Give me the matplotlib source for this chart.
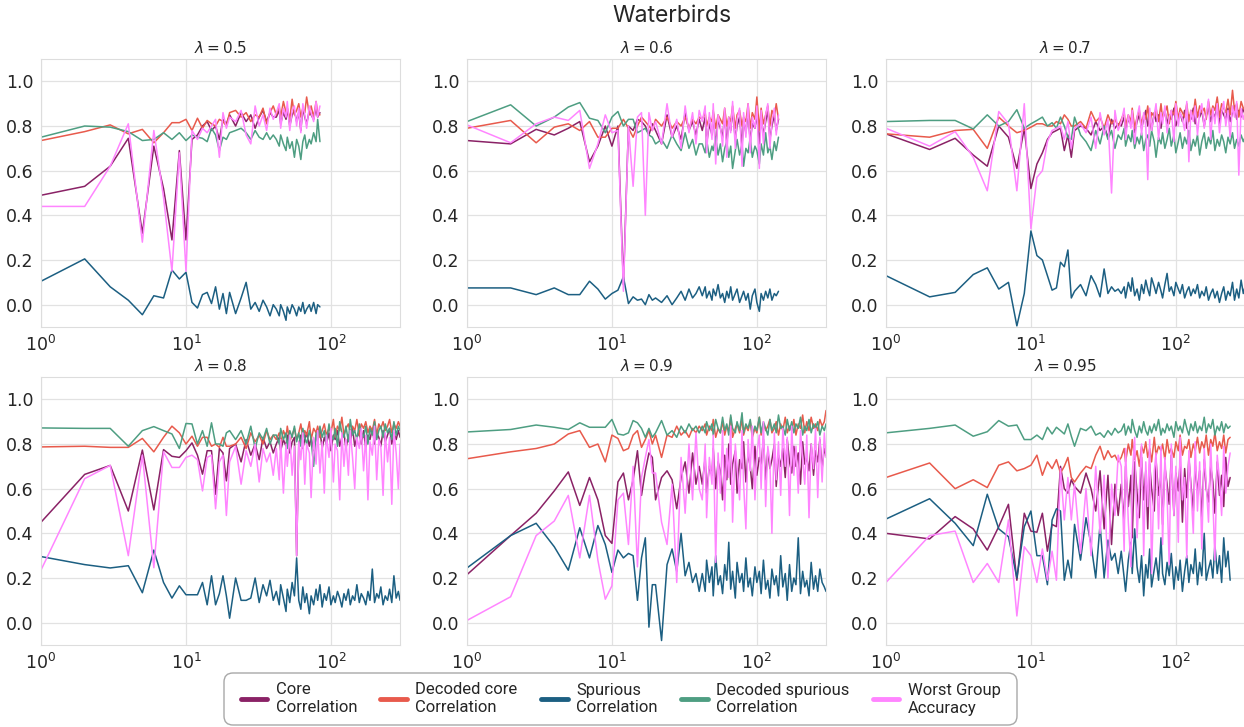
import numpy as np
import matplotlib
matplotlib.use("Agg")
import matplotlib.pyplot as plt
from matplotlib.patches import FancyBboxPatch
from matplotlib.transforms import IdentityTransform
import seaborn as sns

sns.set_style("whitegrid")

# epochs at which the curves were read (shared by every panel, truncated per panel)
epochs = (list(range(1, 21)) + list(range(22, 41, 2)) +
          [42, 44, 45, 47, 49, 50, 52, 54, 56, 58,
           60, 62, 64, 66, 68, 71, 73, 76, 79, 81,
           84, 87, 90, 93, 97, 100, 104, 107, 111, 115,
           119, 123, 127, 132, 136, 141, 146, 151, 157, 162,
           168, 174, 180, 186, 193, 200, 207, 214, 221, 229,
           237, 246, 254, 263, 272, 282, 292, 300])

lambdas = ["0.5", "0.6", "0.7", "0.8", "0.9", "0.95"]
series_names = ["Core\nCorrelation", "Decoded core\nCorrelation", "Spurious\nCorrelation",
                "Decoded spurious\nCorrelation", "Worst Group\nAccuracy"]

# lambda = 0.5
core_05 = [0.49, 0.53, 0.62, 0.745, 0.32, 0.71, 0.52, 0.29, 0.69, 0.29,
           0.74, 0.76, 0.80, 0.82, 0.78, 0.80, 0.74, 0.83, 0.81, 0.85,
           0.80, 0.86, 0.82, 0.85, 0.79, 0.84, 0.87, 0.82, 0.86, 0.84,
           0.84, 0.87, 0.81, 0.86, 0.83, 0.88, 0.80, 0.85, 0.87, 0.82,
           0.86, 0.78, 0.88, 0.84, 0.81, 0.87, 0.85, 0.83, 0.88, 0.84,
           0.86]
dcore_05 = [0.735, 0.775, 0.805, 0.765, 0.785, 0.725, 0.77, 0.815, 0.815, 0.83,
            0.78, 0.835, 0.79, 0.825, 0.81, 0.80, 0.83, 0.82, 0.80, 0.86,
            0.87, 0.84, 0.86, 0.82, 0.85, 0.84, 0.88, 0.81, 0.86, 0.89,
            0.85, 0.89, 0.84, 0.91, 0.86, 0.88, 0.83, 0.92, 0.85, 0.87,
            0.90, 0.84, 0.88, 0.86, 0.93, 0.85, 0.89, 0.84, 0.91, 0.86,
            0.85]
spur_05 = [0.105, 0.205, 0.08, 0.02, -0.045, 0.04, 0.03, 0.155, 0.115, 0.145,
           0.01, -0.015, 0.045, 0.055, 0.005, 0.08, -0.02, 0.05, -0.04, 0.055,
           -0.04, 0.03, 0.10, -0.02, 0.01, -0.03, 0.02, -0.01, -0.05, 0.0,
           -0.02, -0.05, 0.0, -0.03, -0.07, -0.01, -0.04, 0.0, -0.02, -0.05,
           -0.01, -0.03, 0.01, -0.04, -0.02, 0.0, -0.03, 0.01, -0.04, 0.0,
           -0.01]
dspur_05 = [0.75, 0.80, 0.795, 0.775, 0.735, 0.74, 0.77, 0.74, 0.77, 0.735,
            0.76, 0.75, 0.745, 0.73, 0.79, 0.76, 0.69, 0.75, 0.74, 0.77,
            0.78, 0.79, 0.77, 0.74, 0.78, 0.75, 0.74, 0.77, 0.74, 0.76,
            0.74, 0.71, 0.76, 0.72, 0.69, 0.75, 0.70, 0.73, 0.66, 0.74,
            0.71, 0.65, 0.73, 0.76, 0.70, 0.74, 0.72, 0.77, 0.73, 0.83,
            0.73]
wga_05 = [0.44, 0.44, 0.62, 0.81, 0.28, 0.78, 0.48, 0.15, 0.68, 0.15,
          0.78, 0.74, 0.79, 0.77, 0.80, 0.83, 0.66, 0.86, 0.79, 0.84,
          0.82, 0.87, 0.76, 0.72, 0.89, 0.80, 0.85, 0.78, 0.88, 0.83,
          0.86, 0.90, 0.79, 0.88, 0.84, 0.91, 0.78, 0.87, 0.89, 0.80,
          0.88, 0.77, 0.90, 0.85, 0.79, 0.89, 0.86, 0.82, 0.91, 0.84,
          0.89]

# lambda = 0.6
core_06 = [0.735, 0.72, 0.785, 0.76, 0.79, 0.82, 0.64, 0.71, 0.80, 0.71,
           0.80, 0.09, 0.80, 0.78, 0.83, 0.82, 0.80, 0.76, 0.81, 0.78,
           0.72, 0.85, 0.75, 0.80, 0.74, 0.86, 0.78, 0.82, 0.76, 0.83,
           0.78, 0.84, 0.72, 0.81, 0.76, 0.86, 0.70, 0.83, 0.79, 0.75,
           0.85, 0.72, 0.82, 0.78, 0.87, 0.74, 0.80, 0.84, 0.71, 0.83,
           0.77, 0.86, 0.73, 0.81, 0.79, 0.85, 0.72, 0.84, 0.76, 0.82,
           0.87, 0.74, 0.80, 0.85, 0.78, 0.83]
dcore_06 = [0.79, 0.825, 0.725, 0.795, 0.81, 0.78, 0.82, 0.75, 0.75, 0.79,
            0.79, 0.83, 0.79, 0.75, 0.80, 0.84, 0.82, 0.80, 0.78, 0.83,
            0.80, 0.84, 0.79, 0.82, 0.80, 0.84, 0.79, 0.83, 0.81, 0.84,
            0.83, 0.86, 0.80, 0.84, 0.82, 0.87, 0.79, 0.85, 0.83, 0.81,
            0.88, 0.80, 0.84, 0.82, 0.89, 0.79, 0.85, 0.87, 0.80, 0.84,
            0.82, 0.90, 0.79, 0.86, 0.83, 0.93, 0.78, 0.88, 0.81, 0.85,
            0.89, 0.80, 0.87, 0.84, 0.90, 0.83]
spur_06 = [0.075, 0.075, 0.045, 0.075, 0.045, 0.045, 0.105, 0.07, 0.025, 0.05,
           0.065, 0.125, 0.005, 0.035, 0.02, 0.025, 0.0, 0.045, 0.02, 0.03,
           0.01, 0.04, 0.0, 0.03, 0.06, 0.02, 0.07, 0.03, 0.05, 0.08,
           0.04, 0.08, 0.03, 0.06, 0.02, 0.07, 0.04, 0.09, 0.03, 0.05,
           0.01, 0.06, 0.03, 0.08, 0.02, 0.05, 0.07, 0.01, 0.04, 0.06,
           0.02, 0.05, -0.02, 0.04, 0.07, 0.01, -0.03, 0.05, 0.02, 0.06,
           0.03, 0.07, 0.02, 0.05, 0.04, 0.06]
dspur_06 = [0.82, 0.895, 0.80, 0.84, 0.885, 0.905, 0.835, 0.825, 0.77, 0.84,
            0.865, 0.80, 0.83, 0.83, 0.77, 0.78, 0.79, 0.76, 0.75, 0.72,
            0.74, 0.70, 0.76, 0.72, 0.69, 0.77, 0.70, 0.74, 0.67, 0.72,
            0.72, 0.68, 0.74, 0.66, 0.71, 0.69, 0.75, 0.67, 0.72, 0.64,
            0.70, 0.73, 0.66, 0.71, 0.61, 0.69, 0.74, 0.67, 0.72, 0.62,
            0.70, 0.68, 0.75, 0.66, 0.71, 0.69, 0.63, 0.72, 0.67, 0.77,
            0.68, 0.71, 0.65, 0.73, 0.69, 0.75]
wga_06 = [0.805, 0.725, 0.81, 0.84, 0.825, 0.87, 0.61, 0.72, 0.85, 0.77,
          0.78, 0.06, 0.80, 0.53, 0.84, 0.86, 0.40, 0.86, 0.78, 0.82,
          0.72, 0.90, 0.75, 0.83, 0.70, 0.89, 0.77, 0.86, 0.72, 0.87,
          0.82, 0.89, 0.68, 0.86, 0.74, 0.90, 0.63, 0.85, 0.80, 0.71,
          0.88, 0.66, 0.84, 0.77, 0.91, 0.70, 0.83, 0.88, 0.62, 0.86,
          0.75, 0.90, 0.68, 0.84, 0.79, 0.89, 0.61, 0.87, 0.72, 0.85,
          0.90, 0.70, 0.82, 0.88, 0.76, 0.85]

# lambda = 0.7
core_07 = [0.765, 0.695, 0.745, 0.67, 0.62, 0.80, 0.75, 0.61, 0.79, 0.52,
           0.63, 0.68, 0.74, 0.77, 0.78, 0.79, 0.69, 0.76, 0.66, 0.78,
           0.80, 0.79, 0.76, 0.82, 0.78, 0.80, 0.75, 0.83, 0.79, 0.81,
           0.80, 0.84, 0.78, 0.83, 0.81, 0.86, 0.77, 0.82, 0.85, 0.79,
           0.83, 0.87, 0.80, 0.84, 0.78, 0.86, 0.82, 0.85, 0.79, 0.84,
           0.87, 0.81, 0.85, 0.83, 0.88, 0.80, 0.84, 0.86, 0.82, 0.87,
           0.79, 0.85, 0.83, 0.88, 0.81, 0.86, 0.84, 0.87, 0.80, 0.85,
           0.88, 0.82, 0.86, 0.84, 0.89, 0.81, 0.87, 0.85, 0.83, 0.88,
           0.82, 0.86, 0.89, 0.83, 0.87, 0.84, 0.88, 0.85]
dcore_07 = [0.765, 0.75, 0.78, 0.785, 0.70, 0.84, 0.80, 0.77, 0.78, 0.795,
            0.81, 0.81, 0.80, 0.80, 0.82, 0.81, 0.85, 0.83, 0.80, 0.80,
            0.82, 0.79, 0.865, 0.82, 0.84, 0.79, 0.85, 0.81, 0.83, 0.80,
            0.83, 0.86, 0.80, 0.85, 0.82, 0.88, 0.79, 0.84, 0.87, 0.81,
            0.85, 0.83, 0.89, 0.80, 0.86, 0.84, 0.88, 0.82, 0.90, 0.83,
            0.86, 0.89, 0.81, 0.87, 0.85, 0.91, 0.83, 0.88, 0.86, 0.84,
            0.90, 0.82, 0.87, 0.85, 0.92, 0.84, 0.89, 0.86, 0.88, 0.83,
            0.91, 0.85, 0.89, 0.87, 0.93, 0.84, 0.90, 0.88, 0.86, 0.92,
            0.85, 0.96, 0.87, 0.90, 0.84, 0.91, 0.88, 0.87]
spur_07 = [0.13, 0.035, 0.055, 0.135, 0.165, 0.07, 0.10, -0.095, 0.05, 0.33,
           0.22, 0.20, 0.13, 0.065, 0.075, 0.19, 0.17, 0.245, 0.03, 0.06,
           0.09, 0.04, 0.13, 0.09, 0.035, 0.16, 0.05, 0.08, 0.06, 0.07,
           0.05, 0.08, 0.03, 0.10, 0.06, 0.12, 0.04, 0.07, 0.02, 0.09,
           0.05, 0.11, 0.07, 0.04, 0.12, 0.08, 0.05, 0.10, 0.06, 0.03,
           0.09, 0.14, 0.06, 0.08, 0.04, 0.10, 0.07, 0.05, 0.09, 0.03,
           0.06, 0.08, 0.04, 0.07, 0.05, 0.09, 0.03, 0.06, 0.04, 0.08,
           0.02, 0.05, 0.07, 0.03, 0.06, 0.01, 0.05, 0.08, 0.02, 0.06,
           0.04, 0.10, 0.02, 0.07, 0.03, 0.11, 0.05, 0.08]
dspur_07 = [0.82, 0.825, 0.825, 0.787, 0.85, 0.80, 0.82, 0.873, 0.79, 0.81,
            0.825, 0.84, 0.80, 0.815, 0.79, 0.84, 0.80, 0.75, 0.74, 0.84,
            0.76, 0.73, 0.69, 0.78, 0.72, 0.80, 0.74, 0.78, 0.70, 0.76,
            0.74, 0.79, 0.71, 0.76, 0.73, 0.78, 0.70, 0.75, 0.72, 0.77,
            0.69, 0.74, 0.76, 0.71, 0.78, 0.73, 0.66, 0.75, 0.72, 0.77,
            0.70, 0.74, 0.79, 0.71, 0.76, 0.68, 0.73, 0.77, 0.70, 0.75,
            0.72, 0.78, 0.69, 0.74, 0.71, 0.76, 0.67, 0.73, 0.77, 0.70,
            0.75, 0.72, 0.78, 0.69, 0.74, 0.71, 0.76, 0.73, 0.68, 0.75,
            0.72, 0.77, 0.70, 0.74, 0.71, 0.76, 0.73, 0.75]
wga_07 = [0.79, 0.71, 0.775, 0.66, 0.51, 0.865, 0.81, 0.51, 0.90, 0.34,
          0.57, 0.60, 0.73, 0.78, 0.79, 0.80, 0.74, 0.82, 0.70, 0.79,
          0.81, 0.77, 0.84, 0.70, 0.86, 0.76, 0.83, 0.50, 0.87, 0.78,
          0.82, 0.88, 0.74, 0.85, 0.79, 0.87, 0.72, 0.84, 0.89, 0.76,
          0.86, 0.80, 0.56, 0.88, 0.78, 0.85, 0.90, 0.74, 0.86, 0.81,
          0.89, 0.77, 0.84, 0.87, 0.73, 0.90, 0.80, 0.86, 0.83, 0.78,
          0.91, 0.64, 0.87, 0.82, 0.89, 0.76, 0.86, 0.90, 0.79, 0.85,
          0.92, 0.74, 0.88, 0.81, 0.90, 0.77, 0.86, 0.91, 0.80, 0.87,
          0.75, 0.89, 0.84, 0.91, 0.58, 0.88, 0.83, 0.86]

# lambda = 0.8
core_08 = [0.45, 0.664, 0.704, 0.50, 0.773, 0.505, 0.775, 0.745, 0.74, 0.77,
           0.805, 0.75, 0.665, 0.77, 0.77, 0.575, 0.78, 0.76, 0.635, 0.78,
           0.80, 0.72, 0.82, 0.75, 0.80, 0.73, 0.83, 0.78, 0.81, 0.76,
           0.80, 0.83, 0.77, 0.82, 0.79, 0.84, 0.76, 0.81, 0.83, 0.30,
           0.80, 0.84, 0.78, 0.82, 0.85, 0.79, 0.83, 0.77, 0.84, 0.81,
           0.86, 0.78, 0.83, 0.80, 0.85, 0.77, 0.84, 0.82, 0.86, 0.79,
           0.83, 0.85, 0.78, 0.84, 0.81, 0.87, 0.79, 0.83, 0.85, 0.80,
           0.86, 0.78, 0.84, 0.82, 0.87, 0.80, 0.85, 0.83, 0.79, 0.86,
           0.81, 0.84, 0.87, 0.80, 0.85, 0.82, 0.86, 0.83]
dcore_08 = [0.787, 0.79, 0.785, 0.785, 0.825, 0.765, 0.83, 0.88, 0.85, 0.80,
            0.835, 0.79, 0.83, 0.83, 0.79, 0.80, 0.785, 0.83, 0.79, 0.79,
            0.80, 0.83, 0.78, 0.85, 0.81, 0.84, 0.80, 0.86, 0.82, 0.84,
            0.82, 0.85, 0.80, 0.86, 0.83, 0.88, 0.81, 0.84, 0.87, 0.82,
            0.85, 0.89, 0.83, 0.86, 0.84, 0.90, 0.82, 0.87, 0.85, 0.88,
            0.83, 0.86, 0.89, 0.84, 0.87, 0.85, 0.91, 0.83, 0.88, 0.86,
            0.92, 0.84, 0.87, 0.89, 0.85, 0.88, 0.86, 0.91, 0.84, 0.89,
            0.87, 0.90, 0.85, 0.88, 0.86, 0.91, 0.84, 0.89, 0.87, 0.90,
            0.86, 0.88, 0.91, 0.85, 0.89, 0.87, 0.90, 0.88]
spur_08 = [0.296, 0.26, 0.245, 0.255, 0.134, 0.325, 0.18, 0.11, 0.165, 0.125,
           0.125, 0.125, 0.18, 0.08, 0.21, 0.08, 0.13, 0.21, 0.12, 0.02,
           0.20, 0.10, 0.10, 0.11, 0.20, 0.09, 0.17, 0.12, 0.19, 0.10,
           0.14, 0.08, 0.17, 0.11, 0.05, 0.15, 0.09, 0.18, 0.12, 0.29,
           0.10, 0.06, 0.16, 0.09, 0.13, 0.04, 0.12, 0.08, 0.15, 0.10,
           0.17, 0.07, 0.13, 0.10, 0.16, 0.08, 0.12, 0.09, 0.14, 0.11,
           0.07, 0.13, 0.10, 0.15, 0.08, 0.12, 0.10, 0.17, 0.09, 0.13,
           0.11, 0.08, 0.14, 0.10, 0.24, 0.09, 0.13, 0.11, 0.16, 0.08,
           0.12, 0.10, 0.15, 0.09, 0.21, 0.11, 0.14, 0.10]
dspur_08 = [0.872, 0.87, 0.87, 0.79, 0.86, 0.878, 0.86, 0.845, 0.78, 0.892,
            0.89, 0.80, 0.86, 0.79, 0.895, 0.80, 0.80, 0.79, 0.85, 0.86,
            0.82, 0.86, 0.80, 0.88, 0.78, 0.85, 0.82, 0.87, 0.80, 0.84,
            0.84, 0.80, 0.87, 0.82, 0.85, 0.78, 0.86, 0.83, 0.88, 0.81,
            0.85, 0.79, 0.87, 0.83, 0.80, 0.86, 0.82, 0.70, 0.85, 0.81,
            0.88, 0.83, 0.86, 0.80, 0.89, 0.84, 0.82, 0.87, 0.79, 0.90,
            0.85, 0.83, 0.88, 0.81, 0.91, 0.84, 0.86, 0.82, 0.89, 0.85,
            0.83, 0.88, 0.80, 0.87, 0.84, 0.90, 0.82, 0.86, 0.88, 0.83,
            0.89, 0.85, 0.87, 0.82, 0.90, 0.84, 0.88, 0.86]
wga_08 = [0.236, 0.645, 0.704, 0.30, 0.75, 0.246, 0.765, 0.695, 0.695, 0.74,
          0.75, 0.73, 0.59, 0.74, 0.75, 0.51, 0.72, 0.75, 0.48, 0.72,
          0.79, 0.62, 0.77, 0.70, 0.80, 0.63, 0.78, 0.72, 0.76, 0.66,
          0.78, 0.64, 0.82, 0.58, 0.80, 0.70, 0.84, 0.66, 0.79, 0.30,
          0.81, 0.73, 0.85, 0.62, 0.80, 0.76, 0.56, 0.83, 0.71, 0.86,
          0.67, 0.81, 0.58, 0.84, 0.74, 0.87, 0.63, 0.80, 0.77, 0.55,
          0.85, 0.70, 0.82, 0.66, 0.86, 0.74, 0.60, 0.83, 0.78, 0.87,
          0.68, 0.84, 0.55, 0.81, 0.75, 0.88, 0.64, 0.82, 0.79, 0.57,
          0.85, 0.72, 0.83, 0.53, 0.86, 0.76, 0.60, 0.80]

# lambda = 0.9
core_09 = [0.215, 0.39, 0.49, 0.59, 0.675, 0.525, 0.65, 0.55, 0.39, 0.355,
           0.63, 0.67, 0.55, 0.64, 0.77, 0.57, 0.68, 0.76, 0.74, 0.55,
           0.65, 0.68, 0.64, 0.51, 0.65, 0.72, 0.58, 0.76, 0.62, 0.70,
           0.62, 0.74, 0.58, 0.70, 0.66, 0.78, 0.60, 0.72, 0.68, 0.55,
           0.75, 0.64, 0.80, 0.62, 0.71, 0.77, 0.58, 0.73, 0.69, 0.81,
           0.63, 0.76, 0.70, 0.60, 0.79, 0.66, 0.74, 0.71, 0.82, 0.64,
           0.77, 0.69, 0.73, 0.80, 0.61, 0.75, 0.70, 0.78, 0.65, 0.82,
           0.72, 0.67, 0.79, 0.70, 0.76, 0.62, 0.81, 0.71, 0.74, 0.68,
           0.80, 0.66, 0.77, 0.72, 0.82, 0.69, 0.78, 0.75]
dcore_09 = [0.734, 0.765, 0.78, 0.80, 0.845, 0.86, 0.785, 0.80, 0.72, 0.84,
            0.825, 0.77, 0.78, 0.84, 0.86, 0.785, 0.82, 0.86, 0.80, 0.84,
            0.74, 0.84, 0.83, 0.88, 0.84, 0.86, 0.83, 0.87, 0.85, 0.88,
            0.86, 0.89, 0.84, 0.88, 0.86, 0.91, 0.83, 0.87, 0.85, 0.90,
            0.84, 0.88, 0.86, 0.92, 0.83, 0.87, 0.89, 0.85, 0.91, 0.84,
            0.88, 0.86, 0.90, 0.83, 0.87, 0.85, 0.92, 0.84, 0.89, 0.86,
            0.88, 0.91, 0.85, 0.87, 0.90, 0.84, 0.89, 0.86, 0.92, 0.85,
            0.88, 0.86, 0.91, 0.84, 0.89, 0.87, 0.93, 0.85, 0.90, 0.86,
            0.92, 0.87, 0.89, 0.86, 0.91, 0.88, 0.90, 0.95]
spur_09 = [0.245, 0.39, 0.445, 0.34, 0.235, 0.425, 0.29, 0.435, 0.35, 0.225,
           0.325, 0.29, 0.31, 0.30, 0.10, 0.29, 0.38, -0.02, 0.17, 0.17,
           -0.08, 0.26, 0.33, 0.23, 0.40, 0.21, 0.27, 0.18, 0.22, 0.14,
           0.22, 0.14, 0.28, 0.18, 0.25, 0.12, 0.30, 0.17, 0.21, 0.13,
           0.26, 0.19, 0.36, 0.15, 0.23, 0.11, 0.27, 0.18, 0.22, 0.14,
           0.29, 0.16, 0.20, 0.12, 0.25, 0.18, 0.23, 0.13, 0.28, 0.15,
           0.19, 0.11, 0.24, 0.17, 0.21, 0.12, 0.30, 0.16, 0.22, 0.10,
           0.26, 0.14, 0.20, 0.17, 0.38, 0.13, 0.23, 0.16, 0.19, 0.12,
           0.27, 0.15, 0.21, 0.14, 0.24, 0.18, 0.16, 0.14]
dspur_09 = [0.854, 0.865, 0.885, 0.875, 0.865, 0.895, 0.875, 0.875, 0.875, 0.91,
            0.845, 0.84, 0.85, 0.905, 0.895, 0.87, 0.83, 0.87, 0.83, 0.85,
            0.905, 0.84, 0.86, 0.83, 0.88, 0.85, 0.89, 0.86, 0.88, 0.85,
            0.88, 0.85, 0.90, 0.86, 0.89, 0.84, 0.91, 0.87, 0.85, 0.92,
            0.86, 0.89, 0.84, 0.93, 0.87, 0.85, 0.90, 0.86, 0.94, 0.85,
            0.89, 0.87, 0.91, 0.84, 0.88, 0.86, 0.92, 0.85, 0.90, 0.87,
            0.84, 0.91, 0.86, 0.89, 0.85, 0.93, 0.87, 0.88, 0.84, 0.91,
            0.86, 0.90, 0.85, 0.89, 0.87, 0.92, 0.84, 0.88, 0.86, 0.91,
            0.85, 0.89, 0.87, 0.90, 0.84, 0.88, 0.86, 0.89]
wga_09 = [0.01, 0.116, 0.39, 0.455, 0.57, 0.29, 0.57, 0.28, 0.105, 0.165,
          0.55, 0.58, 0.35, 0.70, 0.25, 0.65, 0.74, 0.82, 0.67, 0.67,
          0.45, 0.35, 0.62, 0.18, 0.74, 0.49, 0.80, 0.55, 0.85, 0.60,
          0.55, 0.80, 0.47, 0.74, 0.62, 0.84, 0.27, 0.76, 0.58, 0.86,
          0.50, 0.78, 0.65, 0.88, 0.45, 0.80, 0.70, 0.55, 0.86, 0.62,
          0.42, 0.82, 0.68, 0.88, 0.55, 0.76, 0.84, 0.60, 0.90, 0.52,
          0.79, 0.72, 0.40, 0.85, 0.64, 0.81, 0.57, 0.87, 0.70, 0.83,
          0.48, 0.88, 0.66, 0.79, 0.58, 0.86, 0.73, 0.62, 0.84, 0.47,
          0.80, 0.69, 0.87, 0.56, 0.83, 0.63, 0.85, 0.74]

# lambda = 0.95
core_095 = [0.40, 0.375, 0.475, 0.42, 0.325, 0.43, 0.53, 0.19, 0.49, 0.41,
            0.405, 0.49, 0.32, 0.44, 0.43, 0.70, 0.60, 0.58, 0.64, 0.61,
            0.58, 0.67, 0.60, 0.50, 0.68, 0.42, 0.66, 0.35, 0.62, 0.48,
            0.62, 0.45, 0.70, 0.52, 0.66, 0.38, 0.72, 0.58, 0.47, 0.74,
            0.55, 0.68, 0.42, 0.71, 0.60, 0.50, 0.73, 0.57, 0.66, 0.44,
            0.70, 0.62, 0.53, 0.75, 0.48, 0.67, 0.59, 0.72, 0.45, 0.69,
            0.56, 0.74, 0.62, 0.50, 0.71, 0.58, 0.68, 0.46, 0.73, 0.60,
            0.54, 0.70, 0.63, 0.49, 0.72, 0.57, 0.66, 0.52, 0.74, 0.61,
            0.65]
dcore_095 = [0.65, 0.715, 0.60, 0.64, 0.605, 0.705, 0.72, 0.68, 0.69, 0.705,
             0.75, 0.66, 0.72, 0.69, 0.73, 0.67, 0.70, 0.74, 0.65, 0.63,
             0.67, 0.70, 0.69, 0.75, 0.79, 0.73, 0.77, 0.74, 0.75, 0.72,
             0.74, 0.78, 0.72, 0.80, 0.75, 0.82, 0.73, 0.77, 0.70, 0.79,
             0.76, 0.81, 0.74, 0.78, 0.72, 0.83, 0.75, 0.79, 0.77, 0.80,
             0.73, 0.82, 0.76, 0.78, 0.74, 0.81, 0.77, 0.84, 0.75, 0.79,
             0.78, 0.82, 0.74, 0.80, 0.77, 0.83, 0.76, 0.81, 0.78, 0.84,
             0.75, 0.82, 0.79, 0.85, 0.77, 0.81, 0.78, 0.84, 0.76, 0.82,
             0.83]
spur_095 = [0.464, 0.555, 0.445, 0.345, 0.575, 0.42, 0.385, 0.20, 0.43, 0.50,
            0.30, 0.30, 0.17, 0.46, 0.51, 0.50, 0.19, 0.28, 0.20, 0.44,
            0.28, 0.47, 0.35, 0.20, 0.44, 0.20, 0.37, 0.28, 0.31, 0.22,
            0.32, 0.20, 0.14, 0.28, 0.36, 0.22, 0.42, 0.25, 0.18, 0.30,
            0.12, 0.26, 0.20, 0.33, 0.16, 0.24, 0.29, 0.19, 0.38, 0.22,
            0.17, 0.27, 0.21, 0.31, 0.15, 0.25, 0.19, 0.28, 0.14, 0.23,
            0.30, 0.18, 0.26, 0.22, 0.33, 0.17, 0.27, 0.21, 0.40, 0.19,
            0.24, 0.28, 0.20, 0.35, 0.22, 0.30, 0.18, 0.38, 0.25, 0.32,
            0.19]
dspur_095 = [0.85, 0.87, 0.885, 0.835, 0.855, 0.905, 0.88, 0.885, 0.82, 0.82,
             0.84, 0.82, 0.875, 0.845, 0.875, 0.86, 0.845, 0.89, 0.835, 0.79,
             0.87, 0.86, 0.88, 0.84, 0.85, 0.83, 0.86, 0.84, 0.87, 0.85,
             0.86, 0.89, 0.84, 0.88, 0.85, 0.91, 0.86, 0.83, 0.88, 0.85,
             0.90, 0.86, 0.84, 0.88, 0.85, 0.89, 0.86, 0.91, 0.84, 0.87,
             0.85, 0.89, 0.86, 0.88, 0.83, 0.90, 0.86, 0.88, 0.85, 0.91,
             0.87, 0.84, 0.89, 0.86, 0.90, 0.85, 0.88, 0.86, 0.92, 0.85,
             0.89, 0.87, 0.91, 0.84, 0.88, 0.86, 0.90, 0.85, 0.89, 0.87,
             0.88]
wga_095 = [0.18, 0.39, 0.41, 0.18, 0.265, 0.18, 0.46, 0.03, 0.34, 0.30,
           0.18, 0.33, 0.19, 0.32, 0.19, 0.69, 0.46, 0.65, 0.46, 0.62,
           0.31, 0.60, 0.30, 0.70, 0.40, 0.66, 0.20, 0.62, 0.48, 0.75,
           0.70, 0.32, 0.78, 0.45, 0.25, 0.66, 0.83, 0.38, 0.60, 0.80,
           0.30, 0.72, 0.52, 0.82, 0.22, 0.68, 0.76, 0.42, 0.79, 0.35,
           0.74, 0.57, 0.26, 0.80, 0.48, 0.70, 0.36, 0.83, 0.55, 0.65,
           0.29, 0.77, 0.60, 0.40, 0.81, 0.50, 0.72, 0.33, 0.78, 0.62,
           0.45, 0.80, 0.55, 0.28, 0.75, 0.64, 0.48, 0.79, 0.58, 0.70,
           0.76]

panels = [
    (core_05, dcore_05, spur_05, dspur_05, wga_05),
    (core_06, dcore_06, spur_06, dspur_06, wga_06),
    (core_07, dcore_07, spur_07, dspur_07, wga_07),
    (core_08, dcore_08, spur_08, dspur_08, wga_08),
    (core_09, dcore_09, spur_09, dspur_09, wga_09),
    (core_095, dcore_095, spur_095, dspur_095, wga_095),
]

colors = ["#8a2266", "#e85a4c", "#1c5f82", "#4e9e82", "#ff85ff"]

fig = plt.figure(figsize=(12.44, 7.27), dpi=100)

lefts = [0.033, 0.3754, 0.7122]
bottoms = [0.5502, 0.1128]
w, h = 0.2886, 0.3686

lines = []
for i, (lam, data) in enumerate(zip(lambdas, panels)):
    ax = fig.add_axes([lefts[i % 3], bottoms[i // 3], w, h])
    for vals, c in zip(data, colors):
        x = epochs[:len(vals)]
        ln, = ax.plot(x, vals, color=c, lw=1.1)
        if i == 0:
            lines.append(ln)
    ax.set_xscale("log")
    ax.set_xlim(1, 300)
    ax.set_ylim(-0.1, 1.1)
    ax.set_yticks([0.0, 0.2, 0.4, 0.6, 0.8, 1.0])
    ax.minorticks_off()
    ax.tick_params(labelsize=12.5, colors="#262626", pad=2)
    ax.set_title(r"$\lambda = $" + lam, fontsize=11, pad=4)
    for s in ax.spines.values():
        s.set_color("#dddddd")
    ax.grid(color="#e2e2e2", lw=0.9)

fig.text(0.5398, 0.978, "Waterbirds", ha="center", va="center",
         fontsize=16.5, family=["Inter", "DejaVu Sans"])

# rounded legend box (pixel coordinates)
box = FancyBboxPatch((224, 2), 793, 52, boxstyle="round,pad=0,rounding_size=9",
                     transform=IdentityTransform(), fc="white", ec="#a8a8a8", lw=1.0)
fig.add_artist(box)

leg = fig.legend(lines, series_names, loc="center", ncol=5,
                 bbox_to_anchor=(620.5 / 1244, 28 / 727), frameon=False,
                 handlelength=1.6, handletextpad=0.5, columnspacing=1.4,
                 prop={"family": ["Roboto", "DejaVu Sans"], "size": 12})
for t in leg.get_texts():
    t.set_linespacing(1.25)
for ln in leg.get_lines():
    ln.set_linewidth(3.5)

fig.savefig("out.png", dpi=100)
